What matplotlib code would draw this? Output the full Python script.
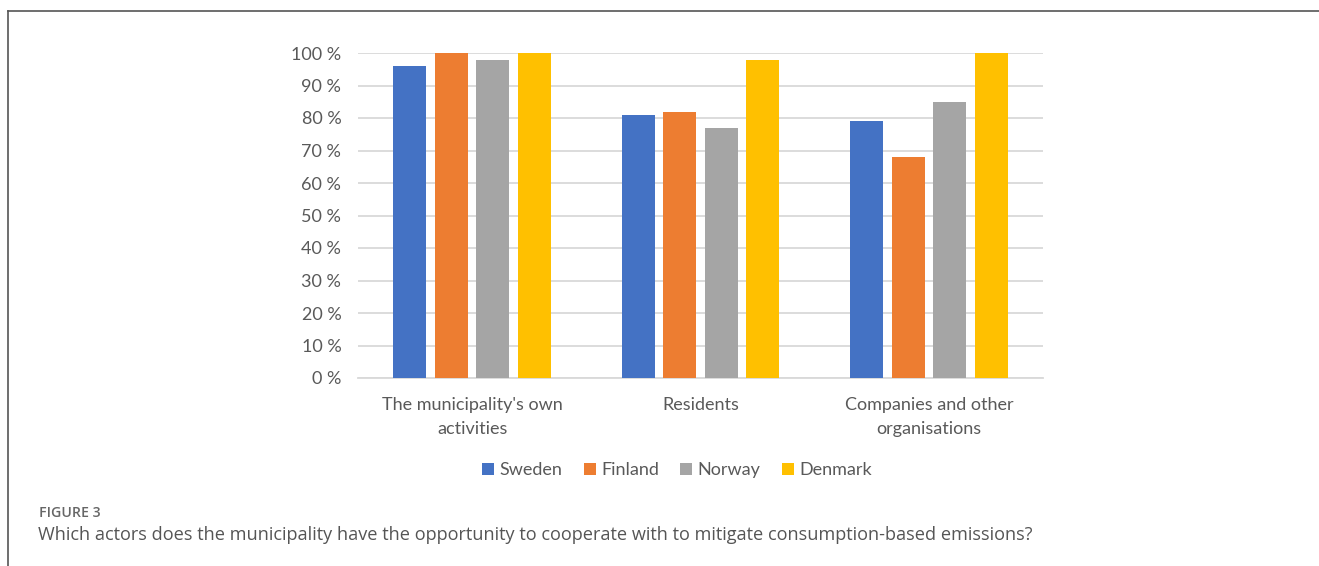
import matplotlib
matplotlib.use("Agg")
import matplotlib.pyplot as plt
import numpy as np
from matplotlib.lines import Line2D
from matplotlib.patches import Patch

categories = ["The municipality's own\nactivities", "Residents", "Companies and other\norganisations"]
series_names = ["Sweden", "Finland", "Norway", "Denmark"]
sweden = [96, 81, 79]
finland = [100, 82, 68]
norway = [98, 77, 85]
denmark = [100, 98, 100]
yticks = [0, 10, 20, 30, 40, 50, 60, 70, 80, 90, 100]
ytick_labels = [f"{v} %" for v in yticks]
colors = ["#4472C4", "#ED7D31", "#A5A5A5", "#FFC000"]

plt.rcParams['font.family'] = ['Lato', 'DejaVu Sans']

fig = plt.figure(figsize=(13.19, 5.66), dpi=100)
ax = fig.add_axes([358/1319, 1-378/566, (1043-358)/1319, (378-53)/566])

x = np.arange(len(categories))
step = 0.182
width = 0.145
for i, (vals, c) in enumerate(zip([sweden, finland, norway, denmark], colors)):
    ax.bar(x + (i-1.5)*step, vals, width=width, color=c, zorder=3, label=series_names[i])

ax.set_xlim(-0.5, 2.5)
ax.set_ylim(0, 100)
ax.set_yticks(yticks)
ax.set_yticklabels(ytick_labels)
ax.set_xticks(x)
ax.set_xticklabels(categories, linespacing=1.6)
ax.tick_params(axis='both', length=0, labelsize=13, labelcolor="#595959")
ax.tick_params(axis='y', pad=12)
ax.tick_params(axis='x', pad=14)
ax.grid(axis='y', color="#D9D9D9", linewidth=1.3, zorder=0)
for s in ['top', 'right', 'left']:
    ax.spines[s].set_visible(False)
ax.spines['bottom'].set_color("#D9D9D9")
ax.spines['bottom'].set_linewidth(1.3)

handles = [Patch(facecolor=c, edgecolor='none') for c in colors]
fig.legend(handles, series_names, loc='center', bbox_to_anchor=(677/1319, 1-470/566),
           ncol=4, frameon=False, fontsize=13, labelcolor="#595959",
           handlelength=0.65, handleheight=0.65, handletextpad=0.3, columnspacing=1.2)

fig.text(39/1319, 1-513/566, "FIGURE 3", fontsize=10.2, color="#666666", fontweight='semibold',
         family=['Open Sans', 'DejaVu Sans'], va='center', ha='left')
fig.text(38/1319, 1-535/566,
         "Which actors does the municipality have the opportunity to cooperate with to mitigate consumption-based emissions?",
         fontsize=13.1, color="#555555", family=['Open Sans', 'DejaVu Sans'], va='center', ha='left')

fig.add_artist(Line2D([7.5/1319, 7.5/1319], [0, 1-10.5/566], transform=fig.transFigure, color="#555555", linewidth=1.2))
fig.add_artist(Line2D([7.5/1319, 1], [1-10.5/566, 1-10.5/566], transform=fig.transFigure, color="#555555", linewidth=1.2))

fig.savefig("out.png", dpi=100)
